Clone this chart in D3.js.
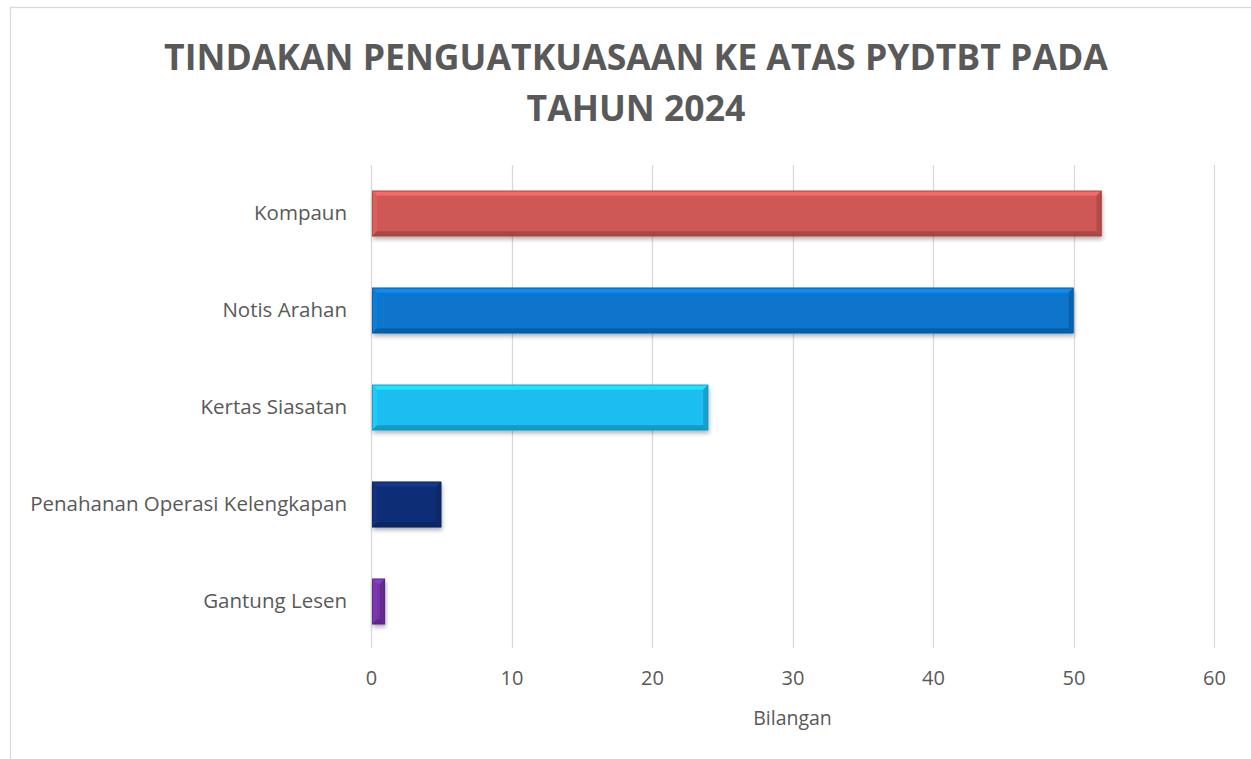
<!DOCTYPE html>
<meta charset="utf-8">
<style>
    body { margin: 0; background: #fff; }
    text { font-family: "Open Sans", sans-serif; fill: #595959; }
    .grid line { stroke: #d9d9d9; stroke-width: 1.3; }
    .axis path, .axis line { display: none; }
</style>

<svg width="1251" height="759"></svg>

<script src="https://cdn.jsdelivr.net/npm/d3@7/dist/d3.min.js"></script>
<script>

    // DATA
    var categories = ["Kompaun", "Notis Arahan", "Kertas Siasatan", "Penahanan Operasi Kelengkapan", "Gantung Lesen"];
    var values = [52, 50, 24, 5, 1];
    var colors = ["#CD5856", "#0B74CB", "#1BBDF0", "#112F76", "#7432A6"];
    var tickValues = [0, 10, 20, 30, 40, 50, 60];
    var titleLines = ["TINDAKAN PENGUATKUASAAN KE ATAS PYDTBT PADA", "TAHUN 2024"];
    var axisTitle = "Bilangan";

    // SETUP
    var svg = d3.select("svg"),
        plot = { left: 371, right: 1214, top: 165, bottom: 650 };

    var x = d3.scaleLinear().domain([0, 60]).range([plot.left, plot.right]);
    var y = d3.scaleBand().domain(categories)
        .range([plot.top, plot.bottom])
        .paddingInner(0.53).paddingOuter(0.265);

    var defs = svg.append("defs");
    var f = defs.append("filter").attr("id", "shadow")
        .attr("x", "-20%").attr("y", "-20%").attr("width", "140%").attr("height", "160%");
    f.append("feDropShadow").attr("dx", 1).attr("dy", 3).attr("stdDeviation", 2)
        .attr("flood-color", "#000").attr("flood-opacity", 0.3);

    // chart border
    svg.append("rect")
        .attr("x", 10.5).attr("y", 7.5).attr("width", 1300).attr("height", 800)
        .attr("fill", "none").attr("stroke", "#d9d9d9").attr("stroke-width", 1.3);

    // title
    var title = svg.append("text")
        .attr("text-anchor", "middle")
        .style("font-weight", "bold")
        .style("font-size", "32px");
    titleLines.forEach(function (t, i) {
        title.append("tspan").attr("x", 636).attr("y", 70 + i * 51).text(t);
    });
    // fit first line to the reference width
    var w0 = title.select("tspan").node().getComputedTextLength();
    title.style("font-size", (32 * 944 / w0) + "px");

    // grid
    svg.append("g").attr("class", "grid")
        .selectAll("line").data(tickValues).enter().append("line")
        .attr("x1", function (d) { return Math.round(x(d)) + 0.5; })
        .attr("x2", function (d) { return Math.round(x(d)) + 0.5; })
        .attr("y1", plot.top).attr("y2", plot.bottom - 2);

    // x axis
    var xa = svg.append("g").attr("class", "axis")
        .attr("transform", "translate(0," + (plot.bottom + 21) + ")")
        .call(d3.axisBottom(x).tickValues(tickValues).tickSize(0).tickPadding(0));
    xa.selectAll("text").style("font-size", "20px").attr("fill", "#595959").attr("dy", "0.71em");

    // y axis
    var ya = svg.append("g").attr("class", "axis")
        .attr("transform", "translate(" + (plot.left - 24) + ",0)")
        .call(d3.axisLeft(y).tickSize(0).tickPadding(0));
    ya.selectAll("text").style("font-size", "20.5px").attr("fill", "#595959");

    svg.append("text")
        .attr("x", (plot.left + plot.right) / 2).attr("y", 725)
        .attr("text-anchor", "middle")
        .style("font-size", "19.5px")
        .text(axisTitle);

    // bars with bevel
    var bars = svg.append("g").selectAll("g.bar")
        .data(categories.map(function (c, i) { return { name: c, value: values[i], color: colors[i] }; }))
        .enter().append("g").attr("class", "bar");

    bars.each(function (d) {
        var g = d3.select(this),
            x0 = x(0) + 1, x1 = x(d.value),
            y0 = y(d.name), h = y.bandwidth(),
            w = x1 - x0,
            b = Math.min(5, w / 2),
            c = d3.color(d.color);

        g.append("rect").attr("x", x0).attr("y", y0).attr("width", w).attr("height", h)
            .attr("fill", d.color).attr("filter", "url(#shadow)");

        function poly(pts, fill) {
            g.append("polygon").attr("points", pts.map(function (p) { return p.join(","); }).join(" "))
                .attr("fill", fill);
        }
        poly([[x0, y0], [x1, y0], [x1 - b, y0 + b], [x0 + b, y0 + b]], c.brighter(0.5));
        poly([[x0, y0], [x0 + b, y0 + b], [x0 + b, y0 + h - b], [x0, y0 + h]], c.brighter(0.2));
        poly([[x1, y0], [x1, y0 + h], [x1 - b, y0 + h - b], [x1 - b, y0 + b]], c.darker(0.45));
        poly([[x0, y0 + h], [x1, y0 + h], [x1 - b, y0 + h - b], [x0 + b, y0 + h - b]], c.darker(0.6));

        g.append("rect").attr("x", x0 + 0.5).attr("y", y0 + 0.5).attr("width", w - 1).attr("height", h - 1)
            .attr("fill", "none").attr("stroke", c.darker(0.8)).attr("stroke-width", 1).attr("stroke-opacity", 0.6);
    });

</script>
